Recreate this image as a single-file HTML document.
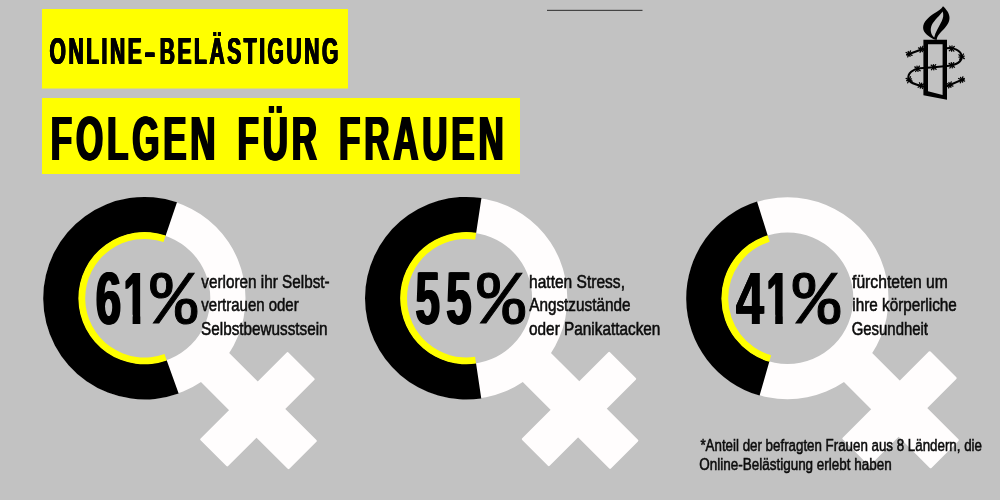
<!DOCTYPE html>
<html lang="de"><head><meta charset="utf-8"><title>Online-Belästigung – Folgen für Frauen</title>
<style>
html,body{margin:0;padding:0;background:#c2c2c2;}
body{width:1000px;height:500px;overflow:hidden;}
svg{display:block;font-family:"Liberation Sans",sans-serif;fill:#111;}
.fat1{filter:drop-shadow(0.6px 0 0 #000) drop-shadow(-0.6px 0 0 #000);}
.fat2{filter:drop-shadow(1px 0 0 #000) drop-shadow(-1px 0 0 #000);}
.fat3{filter:drop-shadow(1.3px 0 0 #000) drop-shadow(-1.3px 0 0 #000);}
.fat4{filter:drop-shadow(1.8px 0 0 #000) drop-shadow(-1.8px 0 0 #000);}
.body text{fill:#0c0c0c;stroke:#0c0c0c;stroke-width:0.55px;}
</style></head><body>
<svg width="1000" height="500" viewBox="0 0 1000 500">
<defs><clipPath id="one"><path d="M0 -73.66H27.02V3.68H17.18V-9.21H0Z"/></clipPath></defs>
<rect width="1000" height="500" fill="#c2c2c2"/>
<rect x="547" y="9.8" width="95.5" height="1.2" fill="#444"/>
<rect x="42" y="9" width="306" height="79.5" fill="#ffff00"/>
<rect x="42" y="98" width="478" height="76" fill="#ffff00"/>
<g transform="translate(144.5 298.2)">
<path fill="#fffdfd" fill-rule="evenodd" d="M-101.0 0a101.0 101.0 0 1 0 202.0 0a101.0 101.0 0 1 0 -202.0 0ZM-65.8 0a65.8 65.8 0 1 0 131.6 0a65.8 65.8 0 1 0 -131.6 0Z"/>
<g transform="rotate(45)" fill="#fffdfd"><rect x="97.0" y="-21.2" width="126.10" height="40.6" rx="1.2"/><rect x="138.95" y="-63.4" width="38.9" height="124.2" rx="1.2"/></g>
<path fill="#000" d="M34.15 95.37 A101.3 101.3 0 1 1 32.48 -95.95 L21.03 -62.14 A65.6 65.6 0 1 0 22.11 61.76Z"/>
<path fill="#ffff00" d="M22.28 62.23 A66.1 66.1 0 1 1 21.19 -62.61 L19.01 -56.17 A59.3 59.3 0 1 0 19.99 55.83Z"/>
</g>
<g transform="translate(466.3 298.2)">
<path fill="#fffdfd" fill-rule="evenodd" d="M-101.0 0a101.0 101.0 0 1 0 202.0 0a101.0 101.0 0 1 0 -202.0 0ZM-65.8 0a65.8 65.8 0 1 0 131.6 0a65.8 65.8 0 1 0 -131.6 0Z"/>
<g transform="rotate(45)" fill="#fffdfd"><rect x="97.0" y="-21.2" width="125.75" height="40.6" rx="1.2"/><rect x="138.60" y="-63.4" width="38.9" height="124.2" rx="1.2"/></g>
<path fill="#000" d="M14.97 100.19 A101.3 101.3 0 1 1 15.15 -100.16 L9.81 -64.86 A65.6 65.6 0 1 0 9.70 64.88Z"/>
<path fill="#ffff00" d="M9.77 65.37 A66.1 66.1 0 1 1 9.88 -65.36 L8.87 -58.63 A59.3 59.3 0 1 0 8.77 58.65Z"/>
</g>
<g transform="translate(787.5 298.2)">
<path fill="#fffdfd" fill-rule="evenodd" d="M-101.0 0a101.0 101.0 0 1 0 202.0 0a101.0 101.0 0 1 0 -202.0 0ZM-65.8 0a65.8 65.8 0 1 0 131.6 0a65.8 65.8 0 1 0 -131.6 0Z"/>
<g transform="rotate(45)" fill="#fffdfd"><rect x="97.0" y="-21.2" width="124.80" height="40.6" rx="1.2"/><rect x="137.65" y="-63.4" width="38.9" height="124.2" rx="1.2"/></g>
<path fill="#000" d="M-27.92 97.38 A101.3 101.3 0 0 1 -30.46 -96.61 L-19.73 -62.56 A65.6 65.6 0 0 0 -18.08 63.06Z"/>
<path fill="#ffff00" d="M-18.22 63.54 A66.1 66.1 0 0 1 -19.88 -63.04 L-17.83 -56.56 A59.3 59.3 0 0 0 -16.35 57.00Z"/>
</g>
<g class="fat1"><text transform="translate(49.96 64.0) scale(0.5692 1)" font-size="36.96" font-weight="bold" fill="#000" letter-spacing="4.5">ONLINE<tspan textLength="27" lengthAdjust="spacingAndGlyphs">-</tspan>BELÄSTIGUNG</text></g>
<g class="fat2"><text transform="translate(50.81 160.4) scale(0.5477 1)" font-size="63.77" font-weight="bold" fill="#000" word-spacing="8.5" letter-spacing="7">FOLGEN FÜR FRAUEN</text></g>
<g><g class="fat2"><text transform="translate(95.84 324.0) scale(0.62 1)" font-size="73.66" font-weight="bold" fill="#000">6</text></g><g class="fat2"><text transform="translate(123.58 324.0) scale(0.5838 1)" font-size="73.66" font-weight="bold" fill="#000" clip-path="url(#one)">1</text></g><text transform="translate(150.5 322.8) scale(1.0109 1)" font-size="76.57" font-weight="normal" fill="#000" font-family="Liberation Mono, monospace" stroke="#000" stroke-width="1">%</text></g>
<g><g class="fat2"><text transform="translate(415.41 324.0) scale(0.5946 1)" font-size="73.66" font-weight="bold" fill="#000">5</text></g><g class="fat2"><text transform="translate(446.27 324.0) scale(0.6162 1)" font-size="73.66" font-weight="bold" fill="#000">5</text></g><text transform="translate(477.4 322.8) scale(1.0283 1)" font-size="76.57" font-weight="normal" fill="#000" font-family="Liberation Mono, monospace" stroke="#000" stroke-width="1">%</text></g>
<g><g class="fat1"><text transform="translate(736.31 324.0) scale(0.69 1)" font-size="73.66" font-weight="bold" fill="#000">4</text></g><g class="fat2"><text transform="translate(766.59 324.0) scale(0.5611 1)" font-size="73.66" font-weight="bold" fill="#000" clip-path="url(#one)">1</text></g><text transform="translate(792.9 322.8) scale(1.0217 1)" font-size="76.57" font-weight="normal" fill="#000" font-family="Liberation Mono, monospace" stroke="#000" stroke-width="1">%</text></g>
<g class="body"><text transform="translate(201.32 287.7) scale(0.8581 1)" font-size="17.83" font-weight="normal" >verloren ihr Selbst-</text></g>
<g class="body"><text transform="translate(201.32 311.4) scale(0.8401 1)" font-size="17.83" font-weight="normal" >vertrauen oder</text></g>
<g class="body"><text transform="translate(201.07 335.4) scale(0.8576 1)" font-size="17.83" font-weight="normal" >Selbstbewusstsein</text></g>
<g class="body"><text transform="translate(529.05 287.7) scale(0.8724 1)" font-size="17.83" font-weight="normal" >hatten Stress,</text></g>
<g class="body"><text transform="translate(529.23 311.4) scale(0.8585 1)" font-size="17.83" font-weight="normal" >Angstzustände</text></g>
<g class="body"><text transform="translate(529.06 335.4) scale(0.861 1)" font-size="17.83" font-weight="normal" >oder Panikattacken</text></g>
<g class="body"><text transform="translate(852.02 287.7) scale(0.8801 1)" font-size="17.83" font-weight="normal" >fürchteten um</text></g>
<g class="body"><text transform="translate(852.27 311.4) scale(0.8579 1)" font-size="17.83" font-weight="normal" >ihre körperliche</text></g>
<g class="body"><text transform="translate(851.69 335.4) scale(0.8372 1)" font-size="17.83" font-weight="normal" >Gesundheit</text></g>
<g class="body"><text transform="translate(700.43 450.6) scale(0.8073 1)" font-size="16.52" font-weight="normal" >*Anteil der befragten Frauen aus 8 Ländern, die</text></g>
<g class="body"><text transform="translate(699.31 469.8) scale(0.816 1)" font-size="16.52" font-weight="normal" >Online-Belästigung erlebt haben</text></g>
<g id="logo" fill="none" stroke="#000" stroke-linecap="round" stroke-linejoin="round">
<g stroke-width="2.05">
<path d="M907 54.7L923.5 48.8"/>
<path d="M946.9 48.3C953 47.3 961.2 50 961.7 56.5C962 62 955 65 947 66L933.6 67.2L920 68.3C913 69 907.3 73 908.5 79C909.5 83.3 916 84.6 923.5 86.6"/>
<path d="M946.9 86.2L964 78.9"/>
</g>
<g stroke-width="1.3">
<path d="M906.1 52.5L912.1 55.3"/>
<path d="M908.2 51.5L910.0 56.3"/>
<path d="M910.5 50.9L907.7 56.9"/>
<path d="M918.5 47.9L924.5 50.7"/>
<path d="M920.6 46.9L922.4 51.7"/>
<path d="M922.9 46.3L920.1 52.3"/>
<path d="M949.7 46.1L953.9 51.1"/>
<path d="M952.0 46.0L951.6 51.2"/>
<path d="M954.3 46.5L949.3 50.7"/>
<path d="M963.5 54.0L959.7 59.4"/>
<path d="M964.2 56.2L959.0 57.2"/>
<path d="M964.3 58.6L958.9 54.8"/>
<path d="M949.1 63.4L954.5 67.2"/>
<path d="M951.3 62.7L952.3 67.9"/>
<path d="M953.7 62.6L949.9 68.0"/>
<path d="M931.1 65.1L936.1 69.3"/>
<path d="M933.4 64.6L933.8 69.8"/>
<path d="M935.7 64.7L931.5 69.7"/>
<path d="M914.8 66.9L920.2 70.7"/>
<path d="M917.0 66.2L918.0 71.4"/>
<path d="M919.4 66.1L915.6 71.5"/>
<path d="M910.5 76.8L907.7 82.8"/>
<path d="M911.5 78.9L906.7 80.7"/>
<path d="M912.1 81.2L906.1 78.4"/>
<path d="M919.4 82.7L922.6 88.5"/>
<path d="M921.7 83.1L920.3 88.1"/>
<path d="M923.9 83.9L918.1 87.2"/>
<path d="M946.9 83.6L952.9 86.2"/>
<path d="M948.9 82.5L950.9 87.3"/>
<path d="M951.2 81.9L948.6 87.9"/>
<path d="M958.6 78.5L964.6 81.1"/>
<path d="M960.6 77.4L962.6 82.2"/>
<path d="M962.9 76.8L960.3 82.8"/>
</g>
<path fill="#000" stroke="none" fill-rule="evenodd" d="M923.4 39.8H947V99.8L923.4 95.3ZM928 44.2V91.2L942.6 95.1V44.2Z"/>
<path fill="#000" stroke="none" fill-rule="evenodd" d="M943 6.2C946 9 949.5 13 949.5 18C949.5 23.5 945 28 941 32C938.5 34.5 937 37 936.6 40L933.6 39.3C929.5 36.8 923.4 33.5 923.1 28C922.9 22 929 17 934 13.6C938 11 941.5 9 943 6.2ZM942.6 11.6C940.5 15 934.5 20 931.8 25C929.8 29.5 930.8 34.5 934.2 37.5C935.2 32.5 939 26.5 941.8 21C943.3 18 943.8 14.5 942.6 11.6Z"/>
</g>
</svg>
</body></html>
